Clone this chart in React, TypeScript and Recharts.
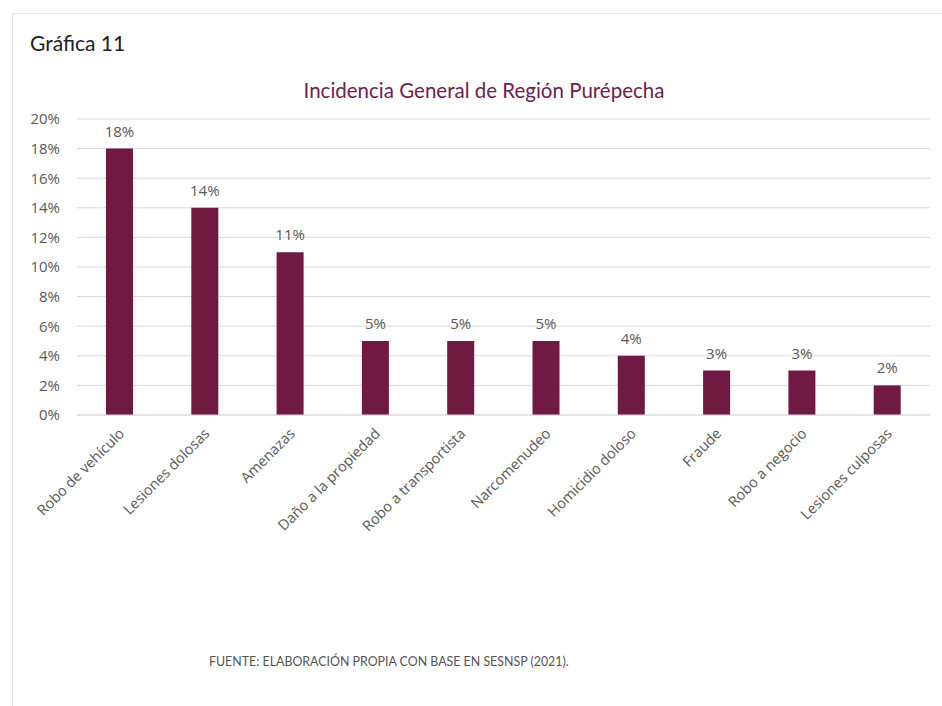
import { BarChart, Bar, XAxis, YAxis, CartesianGrid, LabelList } from 'recharts'

const categories = [
  'Robo de vehículo',
  'Lesiones dolosas',
  'Amenazas',
  'Daño a la propiedad',
  'Robo a transportista',
  'Narcomenudeo',
  'Homicidio doloso',
  'Fraude',
  'Robo a negocio',
  'Lesiones culposas',
]
const incidencia = [18, 14, 11, 5, 5, 5, 4, 3, 3, 2]
const yTicks = [0, 2, 4, 6, 8, 10, 12, 14, 16, 18, 20]

const BAR_COLOR = '#701a43'
const TEXT_GRAY = '#595959'

const data = categories.map((name, i) => ({ name, value: incidencia[i] }))

function RotatedTick({ x, y, payload }: any) {
  return (
    <g transform={`translate(${x + 2},${y + 8})`}>
      <text
        textAnchor="end"
        transform="rotate(-45)"
        fontSize={14.5}
        fill={TEXT_GRAY}
        fontFamily="'Open Sans', sans-serif"
        dy={5}
      >
        {payload.value}
      </text>
    </g>
  )
}

export default function App() {
  return (
    <div style={{ position: 'absolute', left: 0, top: 0, width: 942, height: 706, background: '#fff', overflow: 'hidden' }}>
      {/* frame of the original page */}
      <div style={{ position: 'absolute', left: 12, top: 13, width: 940, height: 700, borderLeft: '1px solid #e3e3e3', borderTop: '1px solid #e3e3e3' }} />

      <div style={{ position: 'absolute', left: 30, top: 30, fontFamily: 'Lato, sans-serif', fontSize: 21, color: '#222' }}>
        Gráfica 11
      </div>

      <div style={{ position: 'absolute', left: 0, width: 968, top: 78, textAlign: 'center', fontFamily: 'Lato, sans-serif', fontSize: 20.5, color: '#6b2250' }}>
        Incidencia General de Región Purépecha
      </div>

      <div style={{ position: 'absolute', left: 0, top: 0 }}>
        <BarChart
          width={942}
          height={706}
          data={data}
          margin={{ top: 119, right: 12, bottom: 191, left: 17 }}
          barCategoryGap="34%"
        >
          <CartesianGrid vertical={false} stroke="#d9d9d9" />
          <XAxis
            dataKey="name"
            interval={0}
            height={100}
            axisLine={{ stroke: '#d9d9d9' }}
            tickLine={false}
            tick={<RotatedTick />}
          />
          <YAxis
            width={60}
            domain={[0, 20]}
            ticks={yTicks}
            axisLine={false}
            tickLine={false}
            tickMargin={11}
            tickFormatter={(v: number) => `${v}%`}
            tick={{ fontSize: 15, fill: TEXT_GRAY, fontFamily: "'Open Sans', sans-serif" }}
          />
          <Bar dataKey="value" fill={BAR_COLOR} isAnimationActive={false}>
            <LabelList
              dataKey="value"
              position="top"
              offset={12}
              formatter={(v: any) => `${v}%`}
              style={{ fontSize: 15, fill: TEXT_GRAY, fontFamily: "'Open Sans', sans-serif" }}
            />
          </Bar>
        </BarChart>
      </div>

      <div style={{ position: 'absolute', left: 209, top: 654, fontFamily: 'Lato, sans-serif', fontSize: 12.4, color: '#555' }}>
        FUENTE: ELABORACIÓN PROPIA CON BASE EN SESNSP (2021).
      </div>
    </div>
  )
}
